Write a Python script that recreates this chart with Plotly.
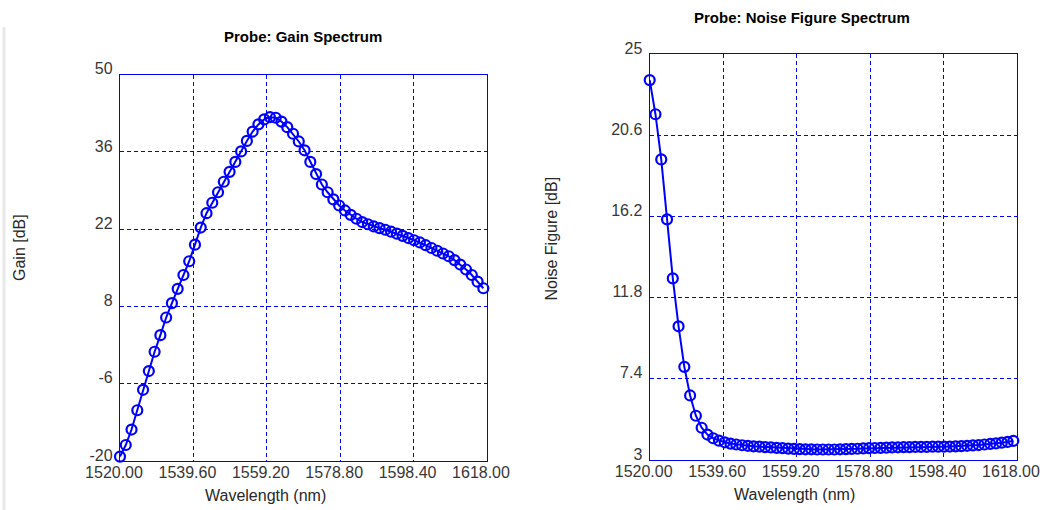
import plotly.graph_objects as go

W, H = 1050, 510

# ---- data ----
n_points = 64
wl_start = 1520.0
wl_step = 1.54
wavelength = [round(wl_start + wl_step * i, 2) for i in range(n_points)]

gain_db = [
    -19.2, -17.1, -14.3, -10.8, -7.1, -3.7, -0.2, 2.8, 6.0, 8.6,
    11.2, 13.7, 16.2, 19.2, 22.3, 24.9, 26.8, 28.7, 30.6, 32.4,
    34.2, 36.1, 38.0, 39.7, 41.0, 41.9, 42.3, 42.2, 41.5, 40.5,
    39.3, 37.9, 36.3, 34.2, 32.0, 30.1, 28.7, 27.4, 26.3, 25.4,
    24.6, 23.9, 23.3, 22.9, 22.5, 22.2, 21.9, 21.55, 21.2, 20.8,
    20.4, 20.0, 19.6, 19.1, 18.6, 18.1, 17.6, 17.1, 16.4, 15.6,
    14.7, 13.7, 12.5, 11.3,
]

noise_figure_db = [
    23.6, 21.75, 19.3, 16.05, 12.85, 10.25, 8.05, 6.5, 5.4, 4.75,
    4.38, 4.18, 4.05, 3.96, 3.89, 3.84, 3.80, 3.77, 3.74, 3.72,
    3.70, 3.68, 3.66, 3.64, 3.62, 3.60, 3.59, 3.58, 3.58, 3.57,
    3.57, 3.57, 3.57, 3.58, 3.59, 3.60, 3.61, 3.63, 3.64, 3.65,
    3.66, 3.67, 3.68, 3.69, 3.70, 3.70, 3.71, 3.71, 3.71, 3.72,
    3.72, 3.72, 3.73, 3.74, 3.75, 3.77, 3.79, 3.81, 3.84, 3.87,
    3.90, 3.94, 3.98, 4.04,
]

x_tickvals = [1520.0, 1539.6, 1559.2, 1578.8, 1598.4, 1618.0]
x_ticktext = ["1520.00", "1539.60", "1559.20", "1578.80", "1598.40", "1618.00"]
gain_tickvals = [-20, -6, 8, 22, 36, 50]
gain_ticktext = ["-20", "-6", "8", "22", "36", "50"]
nf_tickvals = [3, 7.4, 11.8, 16.2, 20.6, 25]
nf_ticktext = ["3", "7.4", "11.8", "16.2", "20.6", "25"]

BLUE = "rgb(0,0,255)"
GRID = "rgb(0,0,255)"
FONT = "Liberation Sans, Arial, sans-serif"
TICKCOL = "rgb(55,55,55)"


def px(x):
    return x / W


def py(y):
    return 1 - y / H


fig = go.Figure()

for xs, ys, xa, ya in [
    (wavelength, gain_db, "x", "y"),
    (wavelength, noise_figure_db, "x2", "y2"),
]:
    fig.add_trace(
        go.Scatter(
            x=xs, y=ys, xaxis=xa, yaxis=ya, mode="lines+markers",
            line=dict(color=BLUE, width=2),
            marker=dict(symbol="circle-open", size=10, color=BLUE,
                        line=dict(color=BLUE, width=2.2)),
            showlegend=False, cliponaxis=False,
        )
    )

xcommon = dict(
    showgrid=True, gridcolor=GRID, gridwidth=1, griddash="4px,3px",
    showline=True, linecolor=BLUE, linewidth=1.3, mirror=True,
    zeroline=False, ticks="", tickmode="array", automargin=False,
    tickvals=x_tickvals, ticktext=x_ticktext, range=[1520, 1618],
    tickfont=dict(family=FONT, size=16, color=TICKCOL),
    ticklabelshift=-6, ticklabelstandoff=-3,
)
ycommon = dict(
    showgrid=True, gridcolor=GRID, gridwidth=1, griddash="4px,3px",
    showline=True, linecolor=BLUE, linewidth=1.3, mirror=True,
    zeroline=False, ticks="", tickmode="array", automargin=False,
    tickfont=dict(family=FONT, size=16, color=TICKCOL),
    ticklabelshift=-6, ticklabelstandoff=3,
)

fig.update_layout(
    template="none",
    width=W, height=H,
    margin=dict(l=0, r=0, t=0, b=0, autoexpand=False),
    paper_bgcolor="white", plot_bgcolor="white",
    xaxis=dict(**xcommon, domain=[px(120), px(487)], anchor="y"),
    yaxis=dict(**ycommon, domain=[py(461), py(74.7)], anchor="x",
               range=[-20, 50], tickvals=gain_tickvals, ticktext=gain_ticktext),
    xaxis2=dict(**xcommon, domain=[px(649.7), px(1017)], anchor="y2"),
    yaxis2=dict(**ycommon, domain=[py(460), py(54.3)], anchor="x2",
                range=[3, 25], tickvals=nf_tickvals, ticktext=nf_ticktext),
)

annots = [
    ("Probe: Gain Spectrum", 303, 37, 0, 15, True),
    ("Probe: Noise Figure Spectrum", 802, 17.5, 0, 15, True),
    ("Wavelength (nm)", 265, 495, 0, 16, False),
    ("Wavelength (nm)", 794, 494, 0, 16, False),
    ("Gain [dB]", 19, 248, -90, 16, False),
    ("Noise Figure [dB]", 551, 238.5, -90, 16, False),
]
for text, x, y, ang, size, bold in annots:
    fig.add_annotation(
        text=f"<b>{text}</b>" if bold else text,
        x=px(x), y=py(y), xref="paper", yref="paper",
        xanchor="center", yanchor="middle", showarrow=False, textangle=ang,
        font=dict(family=FONT, size=size, color="black" if bold else "rgb(40,40,40)"),
    )

fig.add_shape(type="line", xref="paper", yref="paper",
              x0=px(4), x1=px(4), y0=0, y1=py(27),
              line=dict(color="rgb(232,232,232)", width=3))

fig.write_html("out.html")
